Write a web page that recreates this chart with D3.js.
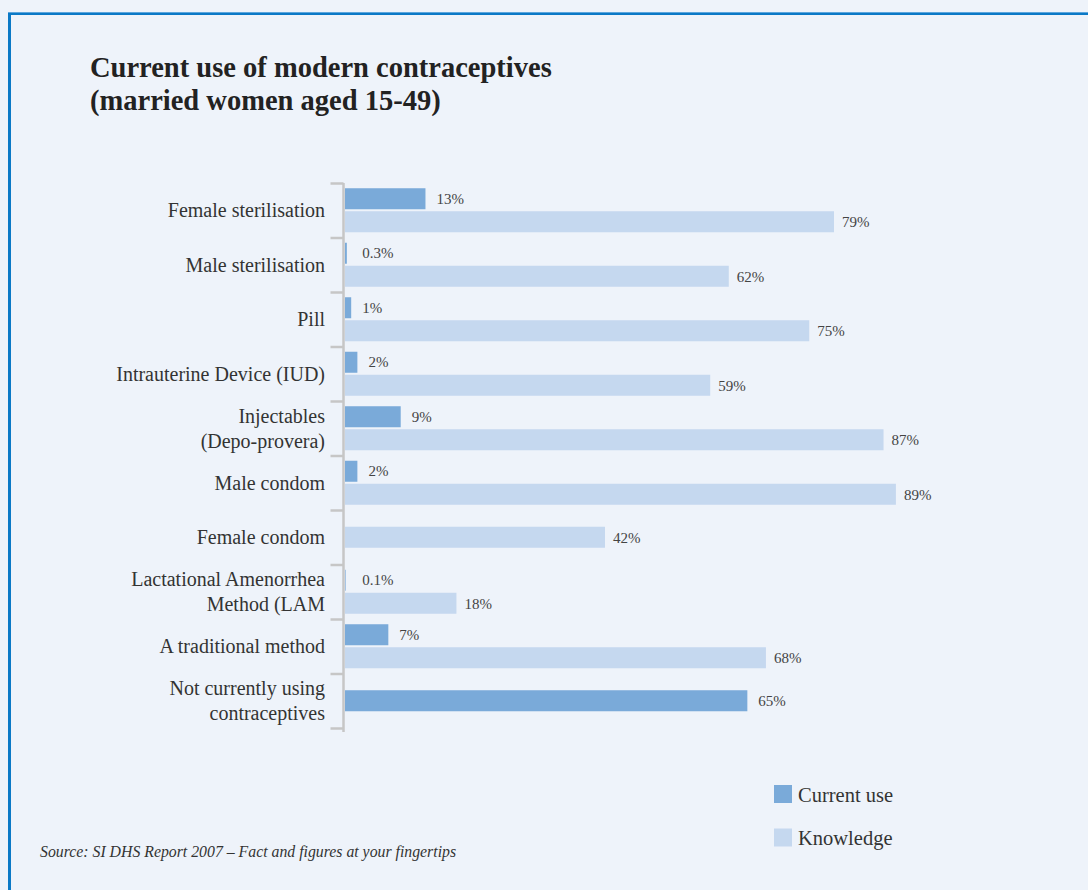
<!DOCTYPE html>
<html>
<head>
<meta charset="utf-8">
<script src="https://cdn.jsdelivr.net/npm/d3@7"></script>
<style>
  html, body { margin: 0; padding: 0; background: #eef3fa; }
  svg { display: block; }
  text { font-family: "Liberation Serif", "Times New Roman", serif; fill: #333; }
</style>
</head>
<body>
<svg id="chart" width="1088" height="890"></svg>
<script>
// Contraceptive methods, current use vs. knowledge (married women aged 15-49), in percent
const categories = [
  "Female sterilisation",
  "Male sterilisation",
  "Pill",
  "Intrauterine Device (IUD)",
  "Injectables (Depo-provera)",
  "Male condom",
  "Female condom",
  "Lactational Amenorrhea Method (LAM",
  "A traditional method",
  "Not currently using contraceptives"
];
const categoryLines = [
  ["Female sterilisation"],
  ["Male sterilisation"],
  ["Pill"],
  ["Intrauterine Device (IUD)"],
  ["Injectables", "(Depo-provera)"],
  ["Male condom"],
  ["Female condom"],
  ["Lactational Amenorrhea", "Method (LAM"],
  ["A traditional method"],
  ["Not currently using", "contraceptives"]
];
const currentUse = [13, 0.3, 1, 2, 9, 2, null, 0.1, 7, 65];
const knowledge  = [79, 62, 75, 59, 87, 89, 42, 18, 68, null];
const seriesNames = ["Current use", "Knowledge"];
const seriesColors = ["#7aaad9", "#c5d8ef"];

const svg = d3.select("#chart");

// Frame: blue rule along the top and left edge
svg.append("rect").attr("x", 8).attr("y", 12).attr("width", 1080).attr("height", 3).attr("fill", "#0b79c6");
svg.append("rect").attr("x", 8).attr("y", 12).attr("width", 3).attr("height", 878).attr("fill", "#0b79c6");
svg.append("rect").attr("x", 8).attr("y", 12).attr("width", 1080).attr("height", 1).attr("fill", "#5ea6dc");

// Title
const title = svg.append("text").attr("x", 90).attr("y", 77)
  .style("font-weight", "bold").style("font-size", "28.5px").style("fill", "#222");
title.append("tspan").attr("x", 90).attr("y", 77).text("Current use of modern contraceptives");
title.append("tspan").attr("x", 90).attr("y", 110).text("(married women aged 15-49)");

// Scales
const x = d3.scaleLinear().domain([0, 100]).range([345, 964]);
const y = d3.scaleBand().domain(categories).range([183, 728]).padding(0);
const y1 = d3.scaleBand().domain(seriesNames).range([0, y.bandwidth()])
  .paddingInner(0.087).paddingOuter(0.228);
const barH = y1.bandwidth();

// Category axis with ticks on band boundaries
const yIdx = d3.scaleLinear().domain([0, categories.length]).range(y.range());
const axisG = svg.append("g").attr("transform", "translate(343.5,0)")
  .call(d3.axisLeft(yIdx).tickValues(d3.range(categories.length + 1))
    .tickFormat("").tickSizeInner(13).tickSizeOuter(0));
axisG.select(".domain").attr("stroke", "#c6c6c6").attr("stroke-width", 2.5)
  .attr("d", `M0,${y.range()[0]}V${y.range()[1] + 4}`);
axisG.selectAll(".tick line").attr("stroke", "#c6c6c6").attr("stroke-width", 2.5);

// Category labels, right aligned against the axis
const lineH = 25.3;
categories.forEach((c, i) => {
  const lines = categoryLines[i];
  const cy = y(c) + y.bandwidth() / 2;
  const t = svg.append("text").attr("text-anchor", "end").style("font-size", "20px");
  lines.forEach((ln, j) => {
    t.append("tspan").attr("x", 325)
      .attr("y", cy + (j - (lines.length - 1) / 2) * lineH)
      .attr("dy", "0.35em").text(ln);
  });
});

// Bar rows
const rows = categories.map((c, i) => ({ c, vals: [currentUse[i], knowledge[i]] }));
const fmt = v => v + "%";

rows.forEach(r => {
  const present = r.vals.map((v, k) => ({ v, k })).filter(d => d.v !== null);
  present.forEach(d => {
    const top = present.length === 1
      ? y(r.c) + (y.bandwidth() - barH) / 2
      : y(r.c) + y1(seriesNames[d.k]);
    svg.append("rect")
      .attr("x", x(0)).attr("y", top)
      .attr("width", x(d.v) - x(0)).attr("height", barH)
      .attr("fill", seriesColors[d.k]);
    svg.append("text")
      .attr("x", Math.max(x(d.v), x(1)) + (d.k === 0 ? 11 : 8))
      .attr("y", top + barH / 2).attr("dy", "0.35em")
      .style("font-size", "15px").style("fill", "#444")
      .text(fmt(d.v));
  });
});

// Legend
const legend = svg.append("g").attr("transform", "translate(774,785)");
seriesNames.forEach((s, k) => {
  const g = legend.append("g").attr("transform", `translate(0,${k * 43.5})`);
  g.append("rect").attr("width", 18).attr("height", 18).attr("fill", seriesColors[k]);
  g.append("text").attr("x", 24).attr("y", 16.5).style("font-size", "20.5px").text(s);
});

// Source note
svg.append("text").attr("x", 40).attr("y", 857)
  .style("font-style", "italic").style("font-size", "15.8px")
  .text("Source: SI DHS Report 2007 – Fact and figures at your fingertips");
</script>
</body>
</html>
